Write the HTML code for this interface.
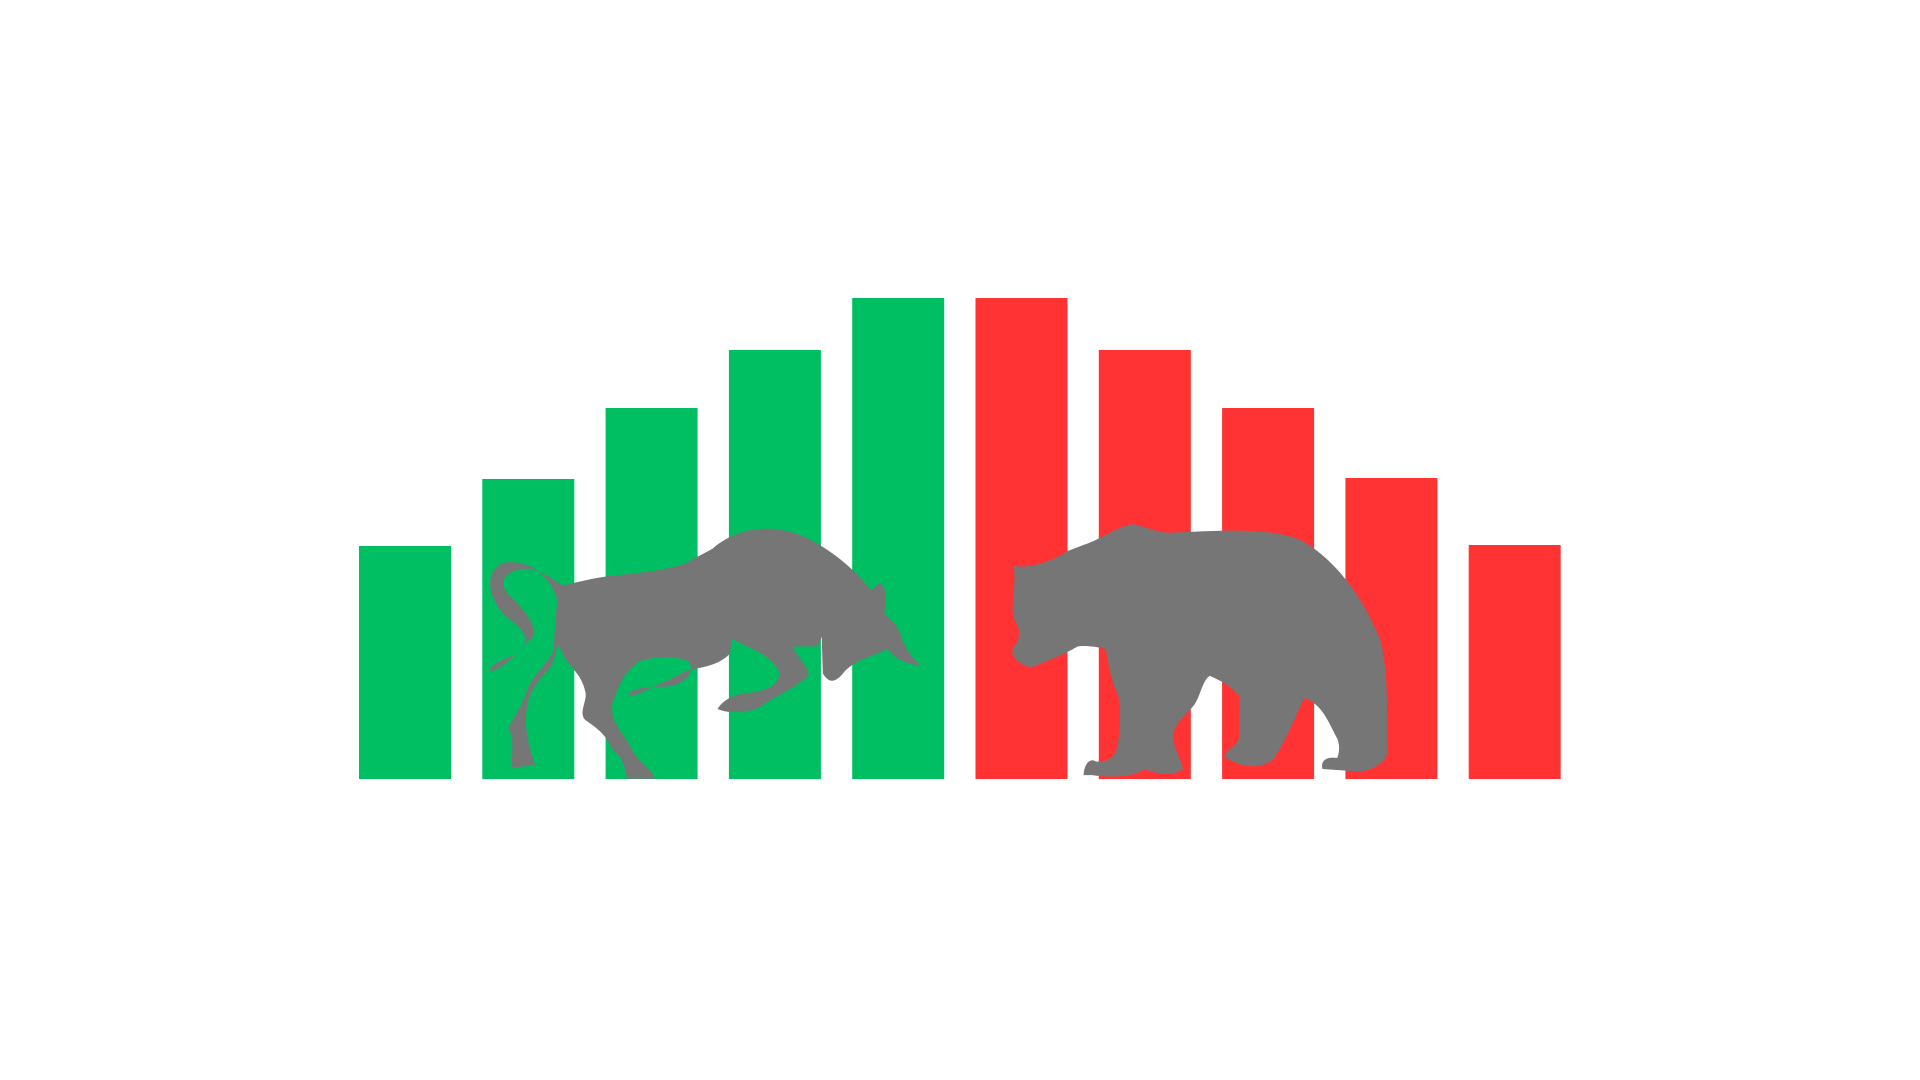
<!DOCTYPE html>
<html><head><meta charset="utf-8"><title>Bull vs Bear</title>
<style>html,body{margin:0;padding:0;background:#fff;width:1920px;height:1080px;overflow:hidden;font-family:"Liberation Sans",sans-serif}</style></head>
<body>
<svg id="chart" width="1920" height="1080" viewBox="0 0 1920 1080" xmlns="http://www.w3.org/2000/svg">
<g id="bars"></g>
<g transform="scale(1.2245)" fill="#767676">
<path d="M455,490 C450,470 430,455 410,460 C395,468 398,490 415,505 C430,515 435,525 420,535 C405,540 400,545 400,548 C410,548 425,530 435,520 C440,515 430,500 420,490 C405,478 410,468 425,465 C440,462 452,475 460,478 L478,474 C500,468 530,470 560,460 L582,448 C600,432 630,425 660,440 C690,455 705,475 712,482 L718,476 C725,478 724,495 722,500 C728,508 735,512 736,520 C740,532 748,540 752,544 C740,542 730,538 725,530 C715,535 700,538 690,548 C684,556 678,560 672,550 L671,520 L668,528 L648,528 C652,540 662,545 660,552 C650,562 630,570 620,578 C608,582 595,583 586,579 C590,572 600,566 612,566 C625,564 638,560 636,548 C630,535 610,528 598,522 L596,534 C585,545 570,545 560,548 C548,555 535,560 525,565 C515,570 512,568 514,566 C520,560 535,562 550,560 C562,556 568,546 562,540 C550,535 535,536 522,540 C510,548 505,560 500,575 C498,590 510,600 515,610 C520,622 530,625 535,636 L512,636 C510,625 508,618 500,612 C495,600 488,595 478,588 C472,582 480,572 478,565 C475,550 465,545 460,535 L455,525 C455,530 452,545 445,550 C438,558 432,565 430,580 C428,595 432,610 437,625 L418,627 C418,612 420,602 415,595 C420,585 427,575 430,565 C435,550 450,540 452,530 Z"/>
<path d="M828,462 C840,465 860,458 872,450 L885,445 C900,440 912,430 925,428 C935,430 945,435 955,435 C990,434 1030,430 1060,440 C1090,455 1115,490 1128,525 C1135,560 1132,590 1133,615 C1130,625 1118,630 1108,630 L1080,628 C1078,620 1085,618 1092,619 C1095,612 1093,605 1092,603 C1085,590 1080,575 1065,570 C1058,585 1050,605 1040,620 C1030,628 1015,628 1000,618 C1002,610 1012,610 1012,600 L1012,568 C1005,560 995,555 988,552 C982,555 980,570 975,576 C968,585 960,590 958,600 C958,612 965,620 966,628 C955,636 940,630 935,628 C925,635 905,635 892,633 L885,633 C885,625 890,618 895,622 C905,622 910,620 913,608 C915,590 916,575 912,565 C907,555 905,540 903,530 C895,528 885,527 880,528 C868,535 855,540 842,545 C830,542 824,535 828,528 C835,520 832,512 828,505 C825,495 830,480 828,462 Z"/>
</g>
</svg>
<script>
const categories = ["g1","g2","g3","g4","g5","r1","r2","r3","r4","r5"];
const values = [233, 300, 371, 429, 481, 481, 429, 371, 301, 234];
const seriesColor = ["bull","bull","bull","bull","bull","bear","bear","bear","bear","bear"];
const baseY = 779, x0 = 359, step = 123.3, bw = 92;
function xPos(i){ return x0 + i*step; }
function yPos(v){ return baseY - v; }
const g = document.getElementById('bars');
categories.forEach((c,i)=>{
  const r = document.createElementNS('http://www.w3.org/2000/svg','rect');
  r.setAttribute('x', xPos(i));
  r.setAttribute('y', yPos(values[i]));
  r.setAttribute('width', bw);
  r.setAttribute('height', values[i]);
  r.setAttribute('fill', seriesColor[i]==='bull' ? '#00BF63' : '#FF3333');
  
  
  g.appendChild(r);
});
</script>
</body></html>
